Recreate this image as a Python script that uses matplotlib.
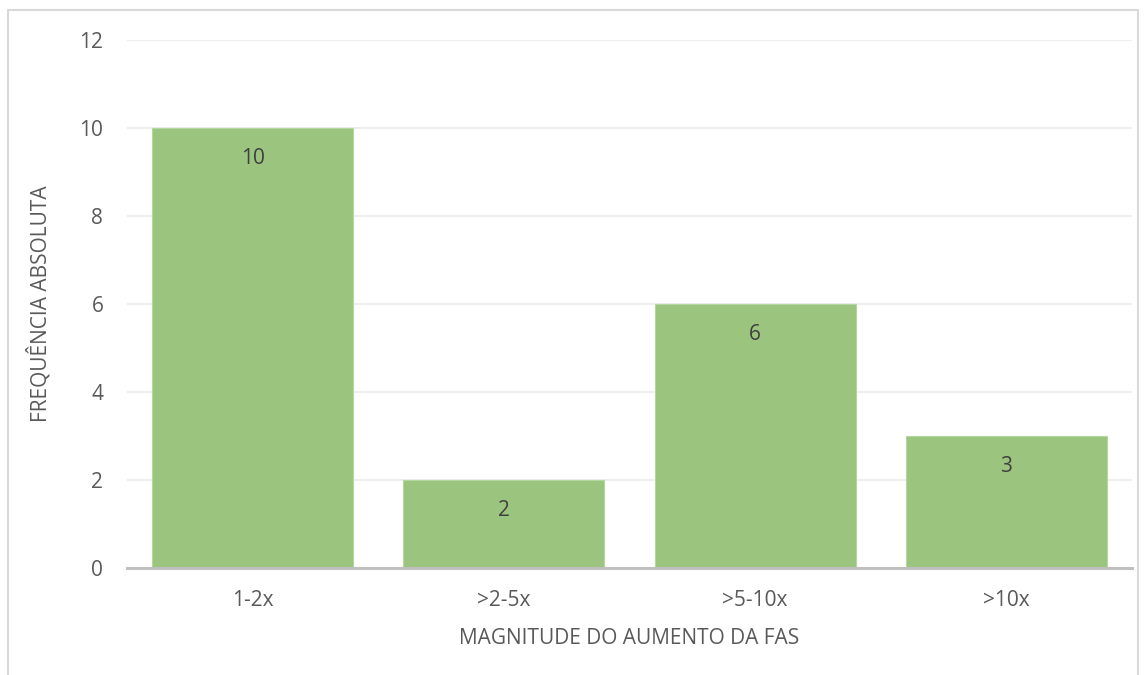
import matplotlib.pyplot as plt
from matplotlib.patches import Rectangle

categories = ["1-2x", ">2-5x", ">5-10x", ">10x"]
counts = [10, 2, 6, 3]
y_ticks = [0, 2, 4, 6, 8, 10, 12]

bar_color = "#9BC57E"
text_color = "#595959"

plt.rcParams["font.family"] = ["Open Sans", "DejaVu Sans"]

fig = plt.figure(figsize=(11.47, 6.75), dpi=100)
ax = fig.add_axes([0.1107, 0.1585, 0.8763, 0.7822])

# outer chart frame
fig.patches.append(Rectangle((8 / 1147, -0.01), 1130 / 1147, 1 - 10 / 675 + 0.01,
                             transform=fig.transFigure, fill=False,
                             edgecolor="#D9D9D9", linewidth=1.5))

x = range(len(categories))
bars = ax.bar(x, counts, width=0.8, color=bar_color, edgecolor="#B5D6A0",
              linewidth=0.8, zorder=2)

for rect, v in zip(bars, counts):
    ax.annotate(str(v), (rect.get_x() + rect.get_width() / 2, v),
                xytext=(0, -22), textcoords="offset points",
                ha="center", va="center", fontsize=15, color="#404040")

ax.set_xlim(-0.5, len(categories) - 0.5)
ax.set_ylim(0, 12)
ax.set_yticks(y_ticks)
ax.set_xticks(list(x))
ax.set_xticklabels(categories)
ax.grid(axis="y", color="#EDEDED", linewidth=1.3, zorder=0)
ax.set_axisbelow(True)

for s in ["top", "right", "left"]:
    ax.spines[s].set_visible(False)
ax.spines["bottom"].set_color("#BFBFBF")
ax.spines["bottom"].set_linewidth(2.2)
ax.spines["bottom"].set_zorder(3)

ax.tick_params(axis="both", length=0, labelsize=15, colors=text_color)
ax.tick_params(axis="y", pad=17)
ax.tick_params(axis="x", pad=16)

ax.set_xlabel("MAGNITUDE DO AUMENTO DA FAS", fontsize=15, color=text_color, labelpad=12)
ax.set_ylabel("FREQUÊNCIA ABSOLUTA", fontsize=15, color=text_color, labelpad=20)

fig.savefig("out.png", dpi=100)
